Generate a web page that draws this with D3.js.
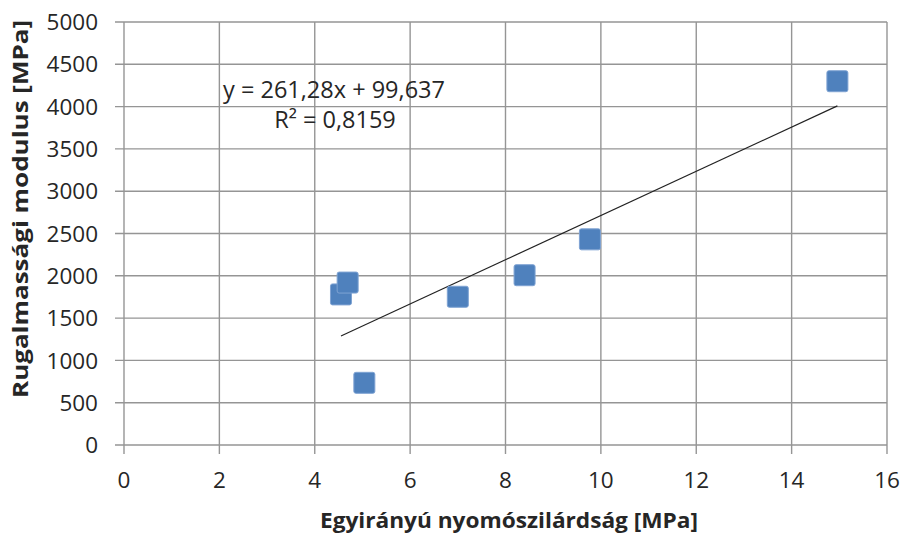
<!DOCTYPE html>
<html>
<head>
<meta charset="utf-8">
<script src="https://cdn.jsdelivr.net/npm/d3@7"></script>
<style>
  html, body { margin: 0; padding: 0; background: #fff; }
  svg { display: block; }
</style>
</head>
<body>
<svg id="chart" width="903" height="533"></svg>
<script>
// ---- data ----
const xValues = [4.55, 4.69, 5.04, 7.00, 8.40, 9.77, 14.96];
const yValues = [1780, 1920, 735, 1752, 2007, 2431, 4300];
const xTicks = [0, 2, 4, 6, 8, 10, 12, 14, 16];
const yTicks = [0, 500, 1000, 1500, 2000, 2500, 3000, 3500, 4000, 4500, 5000];
const trendSlope = 261.28;
const trendIntercept = 99.637;
const equationLabel = "y = 261,28x + 99,637";
const r2Label = "R² = 0,8159";
const xTitle = "Egyirányú nyomószilárdság [MPa]";
const yTitle = "Rugalmassági modulus [MPa]";

// ---- layout ----
const svg = d3.select("#chart");
const plotLeft = 124, plotRight = 887, plotTop = 22, plotBottom = 445;
const x = d3.scaleLinear().domain([0, 16]).range([plotLeft, plotRight]);
const y = d3.scaleLinear().domain([0, 5000]).range([plotBottom, plotTop]);
const gridColor = "#959595";
const font = "'Open Sans', 'Liberation Sans', sans-serif";

// gridlines
svg.append("g").selectAll("line").data(yTicks).join("line")
  .attr("x1", plotLeft - 9).attr("x2", plotRight)
  .attr("y1", d => y(d)).attr("y2", d => y(d))
  .attr("stroke", gridColor).attr("stroke-width", 1.4);
svg.append("g").selectAll("line").data(xTicks).join("line")
  .attr("x1", d => x(d)).attr("x2", d => x(d))
  .attr("y1", plotTop).attr("y2", plotBottom + 9)
  .attr("stroke", gridColor).attr("stroke-width", 1.4);

// tick labels
svg.append("g").selectAll("text").data(yTicks).join("text")
  .attr("x", 98).attr("y", d => y(d)).attr("dy", "0.36em")
  .attr("text-anchor", "end")
  .attr("font-family", font).attr("font-size", 22.5).attr("fill", "#262626")
  .text(d => d);
svg.append("g").selectAll("text").data(xTicks).join("text")
  .attr("x", d => x(d)).attr("y", 488)
  .attr("text-anchor", "middle")
  .attr("font-family", font).attr("font-size", 22.5).attr("fill", "#262626")
  .text(d => d);

// trend line
const xMin = d3.min(xValues), xMax = d3.max(xValues);
svg.append("line")
  .attr("x1", x(xMin)).attr("y1", y(trendSlope * xMin + trendIntercept))
  .attr("x2", x(xMax)).attr("y2", y(trendSlope * xMax + trendIntercept))
  .attr("stroke", "#222").attr("stroke-width", 1.2);

// markers
const pts = xValues.map((v, i) => ({ x: v, y: yValues[i] }));
const s = 21;
svg.append("g").selectAll("rect").data(pts).join("rect")
  .attr("x", d => x(d.x) - s / 2).attr("y", d => y(d.y) - s / 2)
  .attr("width", s).attr("height", s).attr("rx", 2)
  .attr("fill", "#4F81BD").attr("stroke", "#7FA3D3").attr("stroke-width", 1);

// equation labels
svg.append("text").attr("x", 334).attr("y", 98)
  .attr("text-anchor", "middle")
  .attr("font-family", font).attr("font-size", 23.5).attr("fill", "#262626")
  .text(equationLabel);
svg.append("text").attr("x", 335).attr("y", 128)
  .attr("text-anchor", "middle")
  .attr("font-family", font).attr("font-size", 23.5).attr("fill", "#262626")
  .text(r2Label);

// axis titles
svg.append("text").attr("x", 509).attr("y", 528)
  .attr("text-anchor", "middle")
  .attr("font-family", font).attr("font-weight", "bold").attr("font-size", 22)
  .attr("fill", "#262626")
  .attr("textLength", 378).attr("lengthAdjust", "spacingAndGlyphs")
  .text(xTitle);
svg.append("text")
  .attr("transform", "translate(28,209) rotate(-90)")
  .attr("text-anchor", "middle")
  .attr("font-family", font).attr("font-weight", "bold").attr("font-size", 22)
  .attr("fill", "#262626")
  .attr("textLength", 378).attr("lengthAdjust", "spacingAndGlyphs")
  .text(yTitle);
</script>
</body>
</html>
